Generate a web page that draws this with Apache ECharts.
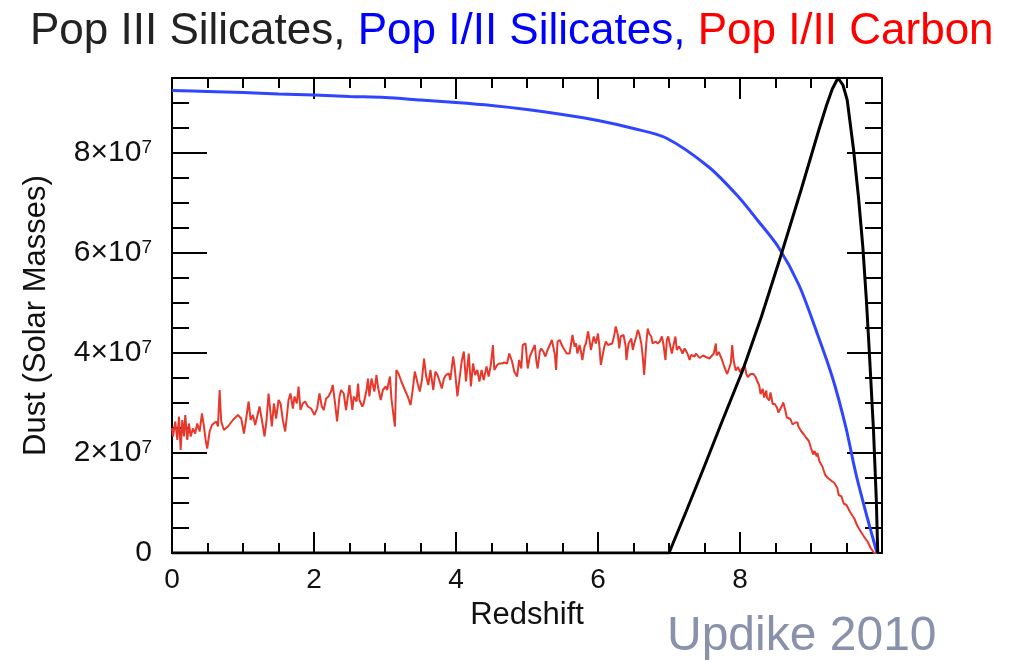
<!DOCTYPE html>
<html>
<head>
<meta charset="utf-8">
<script src="https://cdn.jsdelivr.net/npm/echarts@6/dist/echarts.min.js"></script>
<style>
  html, body { margin: 0; padding: 0; background: #ffffff; }
  #chart { width: 1011px; height: 662px; }
</style>
</head>
<body>
<div id="chart"></div>
<script>
// Dust mass (in units of 10^6 solar masses) against redshift for three dust sources.

// Pop III silicates
const popIIIRedshift = [0, 7.00, 7.25, 7.50, 7.75, 8.04, 8.30, 8.57, 8.86, 9.11, 9.22, 9.30, 9.38, 9.45, 9.51, 9.60, 9.67, 9.73, 9.78, 9.82, 9.88, 9.92, 9.94];
const popIIIDust     = [0, 0, 8.6, 17.4, 26.4, 36.6, 47.2, 59.2, 72.6, 84.6, 89.6, 92.8, 95.0, 93.6, 90.6, 80.6, 71.0, 61.2, 50.6, 40.6, 24.6, 10.6, 0];

// Pop I/II silicates
const popIISilRedshift = [0, 0.5, 1, 1.5, 2, 2.5, 3, 3.5, 4, 4.5, 5, 5.5, 6, 6.5, 6.96, 7.56, 7.98, 8.25, 8.54, 8.83, 9.07, 9.30, 9.49, 9.63, 9.79, 9.93];
const popIISilDust     = [92.5, 92.3, 92.1, 91.8, 91.6, 91.3, 91.1, 90.6, 90.1, 89.5, 88.7, 87.7, 86.5, 84.9, 83.0, 77.2, 71.2, 66.5, 61.2, 53.6, 44.6, 35.2, 25.2, 16.0, 7.2, 0];

// Pop I/II carbon
const popIICarbRedshift = [
  0, 0.014, 0.046, 0.075, 0.098, 0.122, 0.145, 0.169, 0.187, 0.215, 0.239, 0.263, 0.295, 0.327, 0.355, 0.389,
  0.422, 0.45, 0.474, 0.496, 0.53, 0.563, 0.591, 0.623, 0.647, 0.671, 0.693, 0.731, 0.788, 0.858, 0.928, 0.975,
  1.013, 1.045, 1.079, 1.107, 1.139, 1.172, 1.2, 1.233, 1.266, 1.304, 1.332, 1.36, 1.388, 1.406, 1.435, 1.467,
  1.501, 1.529, 1.561, 1.594, 1.622, 1.641, 1.669, 1.702, 1.726, 1.758, 1.782, 1.81, 1.842, 1.875, 1.913, 1.959,
  2.007, 2.044, 2.077, 2.11, 2.138, 2.17, 2.204, 2.24, 2.264, 2.297, 2.325, 2.359, 2.381, 2.419, 2.451, 2.475,
  2.50, 2.54, 2.56, 2.60, 2.62, 2.64, 2.68, 2.70, 2.74, 2.76, 2.78, 2.81, 2.85, 2.88, 2.90, 2.94,
  2.97, 3.01, 3.03, 3.07, 3.09, 3.11, 3.14, 3.16, 3.19, 3.23, 3.28, 3.32, 3.36, 3.39, 3.42, 3.46,
  3.49, 3.52, 3.55, 3.58, 3.61, 3.64, 3.68, 3.71, 3.74, 3.77, 3.80, 3.83, 3.86, 3.90, 3.92, 3.96,
  3.98, 4.02, 4.05, 4.08, 4.11, 4.14, 4.18, 4.21, 4.24, 4.27, 4.30, 4.33, 4.36, 4.39, 4.43, 4.46,
  4.49, 4.52, 4.54, 4.58, 4.61, 4.65, 4.68, 4.72, 4.75, 4.79, 4.82, 4.86, 4.89,
  4.92, 4.94, 4.98, 5.01, 5.04, 5.07, 5.11, 5.13, 5.15, 5.18, 5.20, 5.23, 5.26, 5.29, 5.33, 5.35,
  5.39, 5.41, 5.43, 5.46, 5.50, 5.53, 5.56, 5.60, 5.62, 5.64, 5.67, 5.69, 5.71, 5.74, 5.76, 5.78,
  5.81, 5.83, 5.86, 5.88, 5.90, 5.94, 5.97, 6.00, 6.02, 6.04, 6.07, 6.09, 6.11, 6.14, 6.16, 6.20,
  6.23, 6.25, 6.28, 6.30, 6.32, 6.36, 6.39, 6.40, 6.43, 6.47, 6.49, 6.51, 6.54, 6.56, 6.58, 6.61,
  6.63, 6.65, 6.68, 6.70, 6.72, 6.75, 6.77, 6.81, 6.84, 6.87, 6.90, 6.92, 6.95, 6.97, 6.99, 7.01,
  7.04, 7.06, 7.09, 7.11, 7.14, 7.17, 7.19, 7.22, 7.24, 7.26, 7.29, 7.31, 7.33, 7.36, 7.38, 7.43,
  7.48, 7.52, 7.57, 7.59, 7.63, 7.66, 7.67, 7.70, 7.74, 7.76, 7.78, 7.82, 7.84, 7.87, 7.89, 7.91,
  7.94, 7.97, 8.00, 8.03, 8.07, 8.09, 8.11, 8.15, 8.19, 8.22, 8.24, 8.27, 8.29, 8.32, 8.34, 8.37,
  8.38, 8.41, 8.43, 8.46, 8.49, 8.52, 8.54, 8.56, 8.59, 8.61, 8.64, 8.66, 8.68, 8.71, 8.74, 8.78,
  8.81, 8.82, 8.86, 8.90, 8.93, 8.97, 9.00, 9.03, 9.05, 9.08, 9.09, 9.12, 9.16, 9.18, 9.20, 9.24,
  9.26, 9.30, 9.33, 9.37, 9.39, 9.43, 9.46, 9.50, 9.55, 9.61, 9.65, 9.70, 9.75, 9.80, 9.84, 9.89, 9.93
];
const popIICarbDust = [
  25.0, 23.3, 26.3, 22.6, 27.3, 20.6, 26.6, 23.3, 27.6, 22.6, 25.9, 23.3, 24.9, 23.9, 25.9, 24.3,
  27.9, 25.3, 22.6, 20.9, 24.3, 25.6, 25.3, 26.3, 25.3, 32.6, 26.3, 24.6, 25.3, 26.6, 27.6, 26.9,
  23.9, 26.9, 30.3, 26.6, 27.6, 25.6, 27.3, 29.3, 26.6, 23.3, 26.6, 31.9, 27.9, 25.3, 29.9, 26.9,
  30.6, 29.9, 26.6, 24.3, 27.9, 30.6, 31.9, 28.9, 31.3, 29.9, 33.3, 28.6, 29.9, 30.3, 29.3, 28.9,
  27.6, 28.9, 31.9, 29.3, 28.6, 30.9, 31.3, 32.3, 33.6, 29.9, 26.3, 31.3, 32.6, 31.9, 28.6, 28.2,
  33.6, 28.6, 31.3, 30.3, 33.9, 30.6, 29.3, 29.9, 32.6, 34.9, 31.3, 34.9, 32.3, 35.6, 33.3, 30.6,
  32.6, 33.3, 32.6, 35.3, 30.9, 28.6, 25.3, 36.6, 35.9, 34.3, 32.6, 31.3, 29.6, 32.6, 36.3, 33.9,
  32.3, 34.6, 38.9, 35.3, 33.6, 36.6, 32.6, 36.3, 35.6, 34.3, 32.9, 34.9, 35.6, 35.9, 34.6, 39.3,
  37.3, 31.3, 34.9, 38.3, 40.3, 34.3, 39.9, 33.3, 37.9, 35.6, 36.6, 34.3, 36.6, 34.6, 37.3, 35.3,
  37.6, 41.6, 36.6, 37.6, 37.9, 37.9, 38.1, 37.9, 39.9, 38.3, 36.3, 35.3, 38.6,
  36.9, 41.6, 41.9, 36.9, 39.3, 40.3, 41.6, 38.6, 36.9, 40.3, 40.9, 40.3, 39.3, 40.6, 41.9, 42.6,
  39.9, 36.6, 42.3, 42.6, 41.3, 40.6, 39.9, 39.9, 39.6, 43.6, 41.3, 41.9, 39.9, 41.6, 40.3, 38.6,
  41.3, 41.9, 44.3, 42.6, 40.6, 43.3, 41.9, 43.9, 41.3, 37.6, 39.9, 41.3, 42.3, 41.6, 41.3, 41.9,
  43.6, 45.3, 43.6, 40.9, 43.3, 43.6, 41.3, 38.6, 41.9, 42.9, 40.6, 41.9, 43.3, 44.6, 43.9, 41.9,
  39.3, 35.6, 41.9, 44.9, 43.9, 43.3, 41.9, 42.3, 41.9, 42.3, 43.3, 41.9, 38.6, 42.6, 43.3, 41.9,
  39.9, 41.3, 43.3, 40.6, 41.3, 40.6, 39.9, 40.9, 41.3, 39.9, 38.6, 39.6, 39.9, 39.3, 39.9, 39.0,
  39.5, 39.2, 38.9, 38.5, 39.9, 41.9, 39.5, 40.2, 38.9, 38.5, 37.2, 35.8, 36.2, 37.9, 41.6, 38.5,
  36.5, 37.2, 36.2, 36.9, 37.2, 35.8, 35.2, 35.8, 35.8, 35.2, 34.5, 33.5, 31.8, 32.8, 31.1, 32.5,
  31.1, 30.5, 32.1, 29.8, 29.8, 29.1, 28.1, 27.8, 29.4, 30.1, 28.4, 27.1, 27.1, 26.8, 25.7, 26.1,
  26.1, 25.4, 24.4, 23.7, 23.1, 22.4, 21.0, 19.7, 20.4, 19.3, 20.0, 18.3, 17.3, 17.0, 15.6, 15.0,
  15.3, 14.3, 14.0, 13.0, 11.6, 11.3, 9.9, 9.6, 8.2, 6.9, 5.5, 4.3, 3.2, 2.2, 1.0, 0, 0
];

// Axis ranges and tick spacing
const redshiftTicks = [0, 2, 4, 6, 8];
const dustTicks = [0, 2e7, 4e7, 6e7, 8e7];
const dustMax = 9.5e7;

const UNIT = 1e6;
const toPairs = (xs, ys) => xs.map((x, i) => [x, ys[i] * UNIT]);

const FONT = '"Liberation Sans", Arial, Helvetica, sans-serif';
const INK = '#111111';

const frameLine = { show: true, onZero: false, lineStyle: { color: '#000', width: 2 } };

function redshiftAxis(position, withLabels) {
  return {
    type: 'value', position: position, min: 0, max: 10, interval: 2,
    axisLine: frameLine,
    axisTick: { show: true, inside: true, length: 21, lineStyle: { color: '#000', width: 2 } },
    minorTick: { show: true, splitNumber: 4, length: 10, lineStyle: { color: '#000', width: 2 } },
    splitLine: { show: false },
    axisLabel: withLabels ? {
      show: true, margin: 13, color: INK, fontFamily: FONT, fontSize: 28,
      formatter: v => (redshiftTicks.indexOf(v) >= 0 ? String(v) : '')
    } : { show: false },
    name: withLabels ? 'Redshift' : '',
    nameLocation: 'middle', nameGap: 47,
    nameTextStyle: { color: INK, fontFamily: FONT, fontSize: 31 }
  };
}

// short ticks every 5e6
function dustMinorAxis(position) {
  return {
    type: 'value', position: position, min: 0, max: dustMax, interval: 5e6,
    axisLine: frameLine,
    axisTick: { show: true, inside: true, length: 17, lineStyle: { color: '#000', width: 2 } },
    splitLine: { show: false },
    axisLabel: { show: false }
  };
}

// long ticks and labels every 2e7
function dustMajorAxis(position, withLabels) {
  return {
    type: 'value', position: position, min: 0, max: dustMax, interval: 2e7,
    axisLine: frameLine,
    axisTick: { show: true, inside: true, length: 35, lineStyle: { color: '#000', width: 2 } },
    splitLine: { show: false },
    axisLabel: withLabels ? {
      show: true, margin: 20, color: INK, fontFamily: FONT,
      formatter: v => {
        if (dustTicks.indexOf(v) < 0) return '';
        if (v === 0) return '{m|0}';
        return '{m|' + (v / 1e7) + '×10}{s|7}';
      },
      rich: {
        m: { fontSize: 30, fontFamily: FONT, color: INK },
        s: { fontSize: 19, fontFamily: FONT, color: INK, verticalAlign: 'top', padding: [0, 0, 6, 0] }
      }
    } : { show: false },
    name: withLabels ? 'Dust (Solar Masses)' : '',
    nameLocation: 'middle', nameRotate: 90, nameGap: 120,
    nameTextStyle: { color: INK, fontFamily: FONT, fontSize: 31 }
  };
}

const chart = echarts.init(document.getElementById('chart'), null, { renderer: 'canvas' });

chart.setOption({
  animation: false,
  backgroundColor: '#ffffff',
  title: {
    left: 25, top: 5,
    text: '{a|Pop III Silicates, }{b|Pop I/II Silicates, }{c|Pop I/II Carbon}',
    textStyle: {
      fontFamily: FONT, fontSize: 44, fontWeight: 'normal',
      rich: {
        a: { color: '#222222', fontFamily: FONT, fontSize: 44 },
        b: { color: '#0000ff', fontFamily: FONT, fontSize: 44 },
        c: { color: '#ff0000', fontFamily: FONT, fontSize: 44 }
      }
    }
  },
  grid: { left: 172, right: 129, top: 78, bottom: 109, containLabel: false },
  xAxis: [redshiftAxis('bottom', true), redshiftAxis('top', false)],
  yAxis: [
    dustMinorAxis('left'),
    dustMajorAxis('left', true),
    dustMinorAxis('right'),
    dustMajorAxis('right', false)
  ],
  graphic: [{
    type: 'text', left: 667, top: 613,
    style: { text: 'Updike 2010', font: '48px ' + FONT, fill: '#8a92ab' }
  }],
  series: [
    {
      name: 'Pop I/II Carbon', type: 'line', xAxisIndex: 0, yAxisIndex: 0,
      data: toPairs(popIICarbRedshift, popIICarbDust),
      showSymbol: false, lineStyle: { color: '#e8382c', width: 2 }, z: 3
    },
    {
      name: 'Pop I/II Silicates', type: 'line', xAxisIndex: 0, yAxisIndex: 0,
      data: toPairs(popIISilRedshift, popIISilDust), smooth: 0.3,
      showSymbol: false, lineStyle: { color: '#2f45ff', width: 3 }, z: 4
    },
    {
      name: 'Pop III Silicates', type: 'line', xAxisIndex: 0, yAxisIndex: 0,
      data: toPairs(popIIIRedshift, popIIIDust),
      showSymbol: false, lineStyle: { color: '#000000', width: 3, join: 'round' }, z: 5
    }
  ]
});
</script>
</body>
</html>
